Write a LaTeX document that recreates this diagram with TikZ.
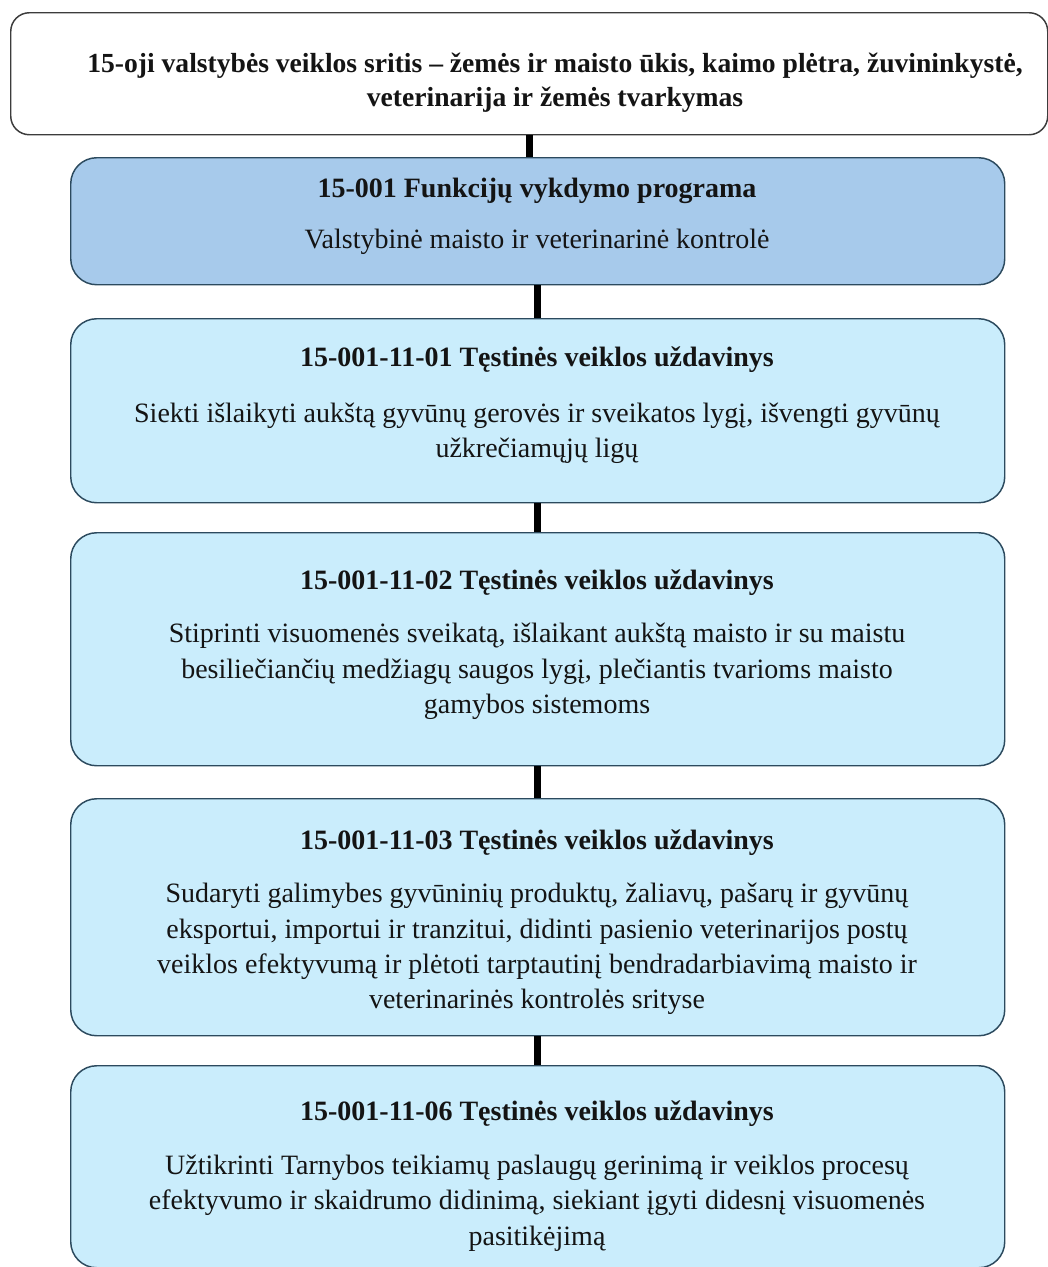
\documentclass[tikz,border=0pt]{standalone}
\usepackage{fontspec}
\setmainfont{Liberation Serif}
\definecolor{darkfill}{HTML}{A7CAEB}
\definecolor{lightfill}{HTML}{CAEDFC}
\definecolor{boxline}{HTML}{2C4A5E}
\definecolor{topline}{HTML}{3C3C3C}
\definecolor{txt}{HTML}{141414}
\begin{document}
\begin{tikzpicture}[x=0.75pt,y=-0.75pt,
  panel/.style={draw=boxline, line width=1.1pt, rounded corners=19.5pt,
    fill=lightfill, anchor=north west, minimum width=700.5pt, inner sep=0pt},
  toppanel/.style={draw=topline, line width=1.1pt, rounded corners=14pt,
    fill=white, anchor=north west, inner sep=0pt},
  head/.style={font=\fontsize{21}{26.6}\selectfont\bfseries, text=txt, inner sep=0pt, anchor=mid},
  body/.style={font=\fontsize{21}{26.6}\selectfont, text=txt, inner sep=0pt, align=center},
  link/.style={line width=5.2pt, black}]
\useasboundingbox (0,0) rectangle (1048,1267);
\fill[white] (0,0) rectangle (1048,1267);

% boxes
\node[toppanel, minimum width=777.75pt, minimum height=91.5pt] (top) at (10,12) {};
\node[panel, fill=darkfill, minimum height=95.25pt] (b1) at (70,157) {};
\node[panel, minimum height=138pt] (b2) at (70,318) {};
\node[panel, minimum height=174.75pt] (b3) at (70,532) {};
\node[panel, minimum height=177.75pt] (b4) at (70,798) {};
\node[panel, minimum height=151.5pt] (b5) at (70,1065) {};

% connectors
\draw[link] (top.south) -- (top.south |- b1.north);
\draw[link] (b1.south) -- (b2.north);
\draw[link] (b2.south) -- (b3.north);
\draw[link] (b3.south) -- (b4.north);
\draw[link] (b4.south) -- (b5.north);

% texts
\node[body, font=\fontsize{20.7}{25.5}\selectfont\bfseries] (t0) at (555,82.5)
  {15-oji valstybės veiklos sritis – žemės ir maisto ūkis, kaimo plėtra, žuvininkystė,\\
   veterinarija ir žemės tvarkymas};

\node[head] (h1) at (537,194) {15-001 Funkcijų vykdymo programa};
\node[body, anchor=mid] (s1) at (537,245) {Valstybinė maisto ir veterinarinė kontrolė};

\node[head] (h2) at (537,363) {15-001-11-01 Tęstinės veiklos uždavinys};
\node[body] (s2) at (537,433.5)
  {Siekti išlaikyti aukštą gyvūnų gerovės ir sveikatos lygį, išvengti gyvūnų\\
   užkrečiamųjų ligų};

\node[head] (h3) at (537,586) {15-001-11-02 Tęstinės veiklos uždavinys};
\node[body] (s3) at (537,671.5)
  {Stiprinti visuomenės sveikatą, išlaikant aukštą maisto ir su maistu\\
   besiliečiančių medžiagų saugos lygį, plečiantis tvarioms maisto\\
   gamybos sistemoms};

\node[head] (h4) at (537,846) {15-001-11-03 Tęstinės veiklos uždavinys};
\node[body] (s4) at (537,949)
  {Sudaryti galimybes gyvūninių produktų, žaliavų, pašarų ir gyvūnų\\
   eksportui, importui ir tranzitui, didinti pasienio veterinarijos postų\\
   veiklos efektyvumą ir plėtoti tarptautinį bendradarbiavimą maisto ir\\
   veterinarinės kontrolės srityse};

\node[head] (h5) at (537,1117) {15-001-11-06 Tęstinės veiklos uždavinys};
\node[body] (s5) at (537,1203)
  {Užtikrinti Tarnybos teikiamų paslaugų gerinimą ir veiklos procesų\\
   efektyvumo ir skaidrumo didinimą, siekiant įgyti didesnį visuomenės\\
   pasitikėjimą};
\end{tikzpicture}
\end{document}
